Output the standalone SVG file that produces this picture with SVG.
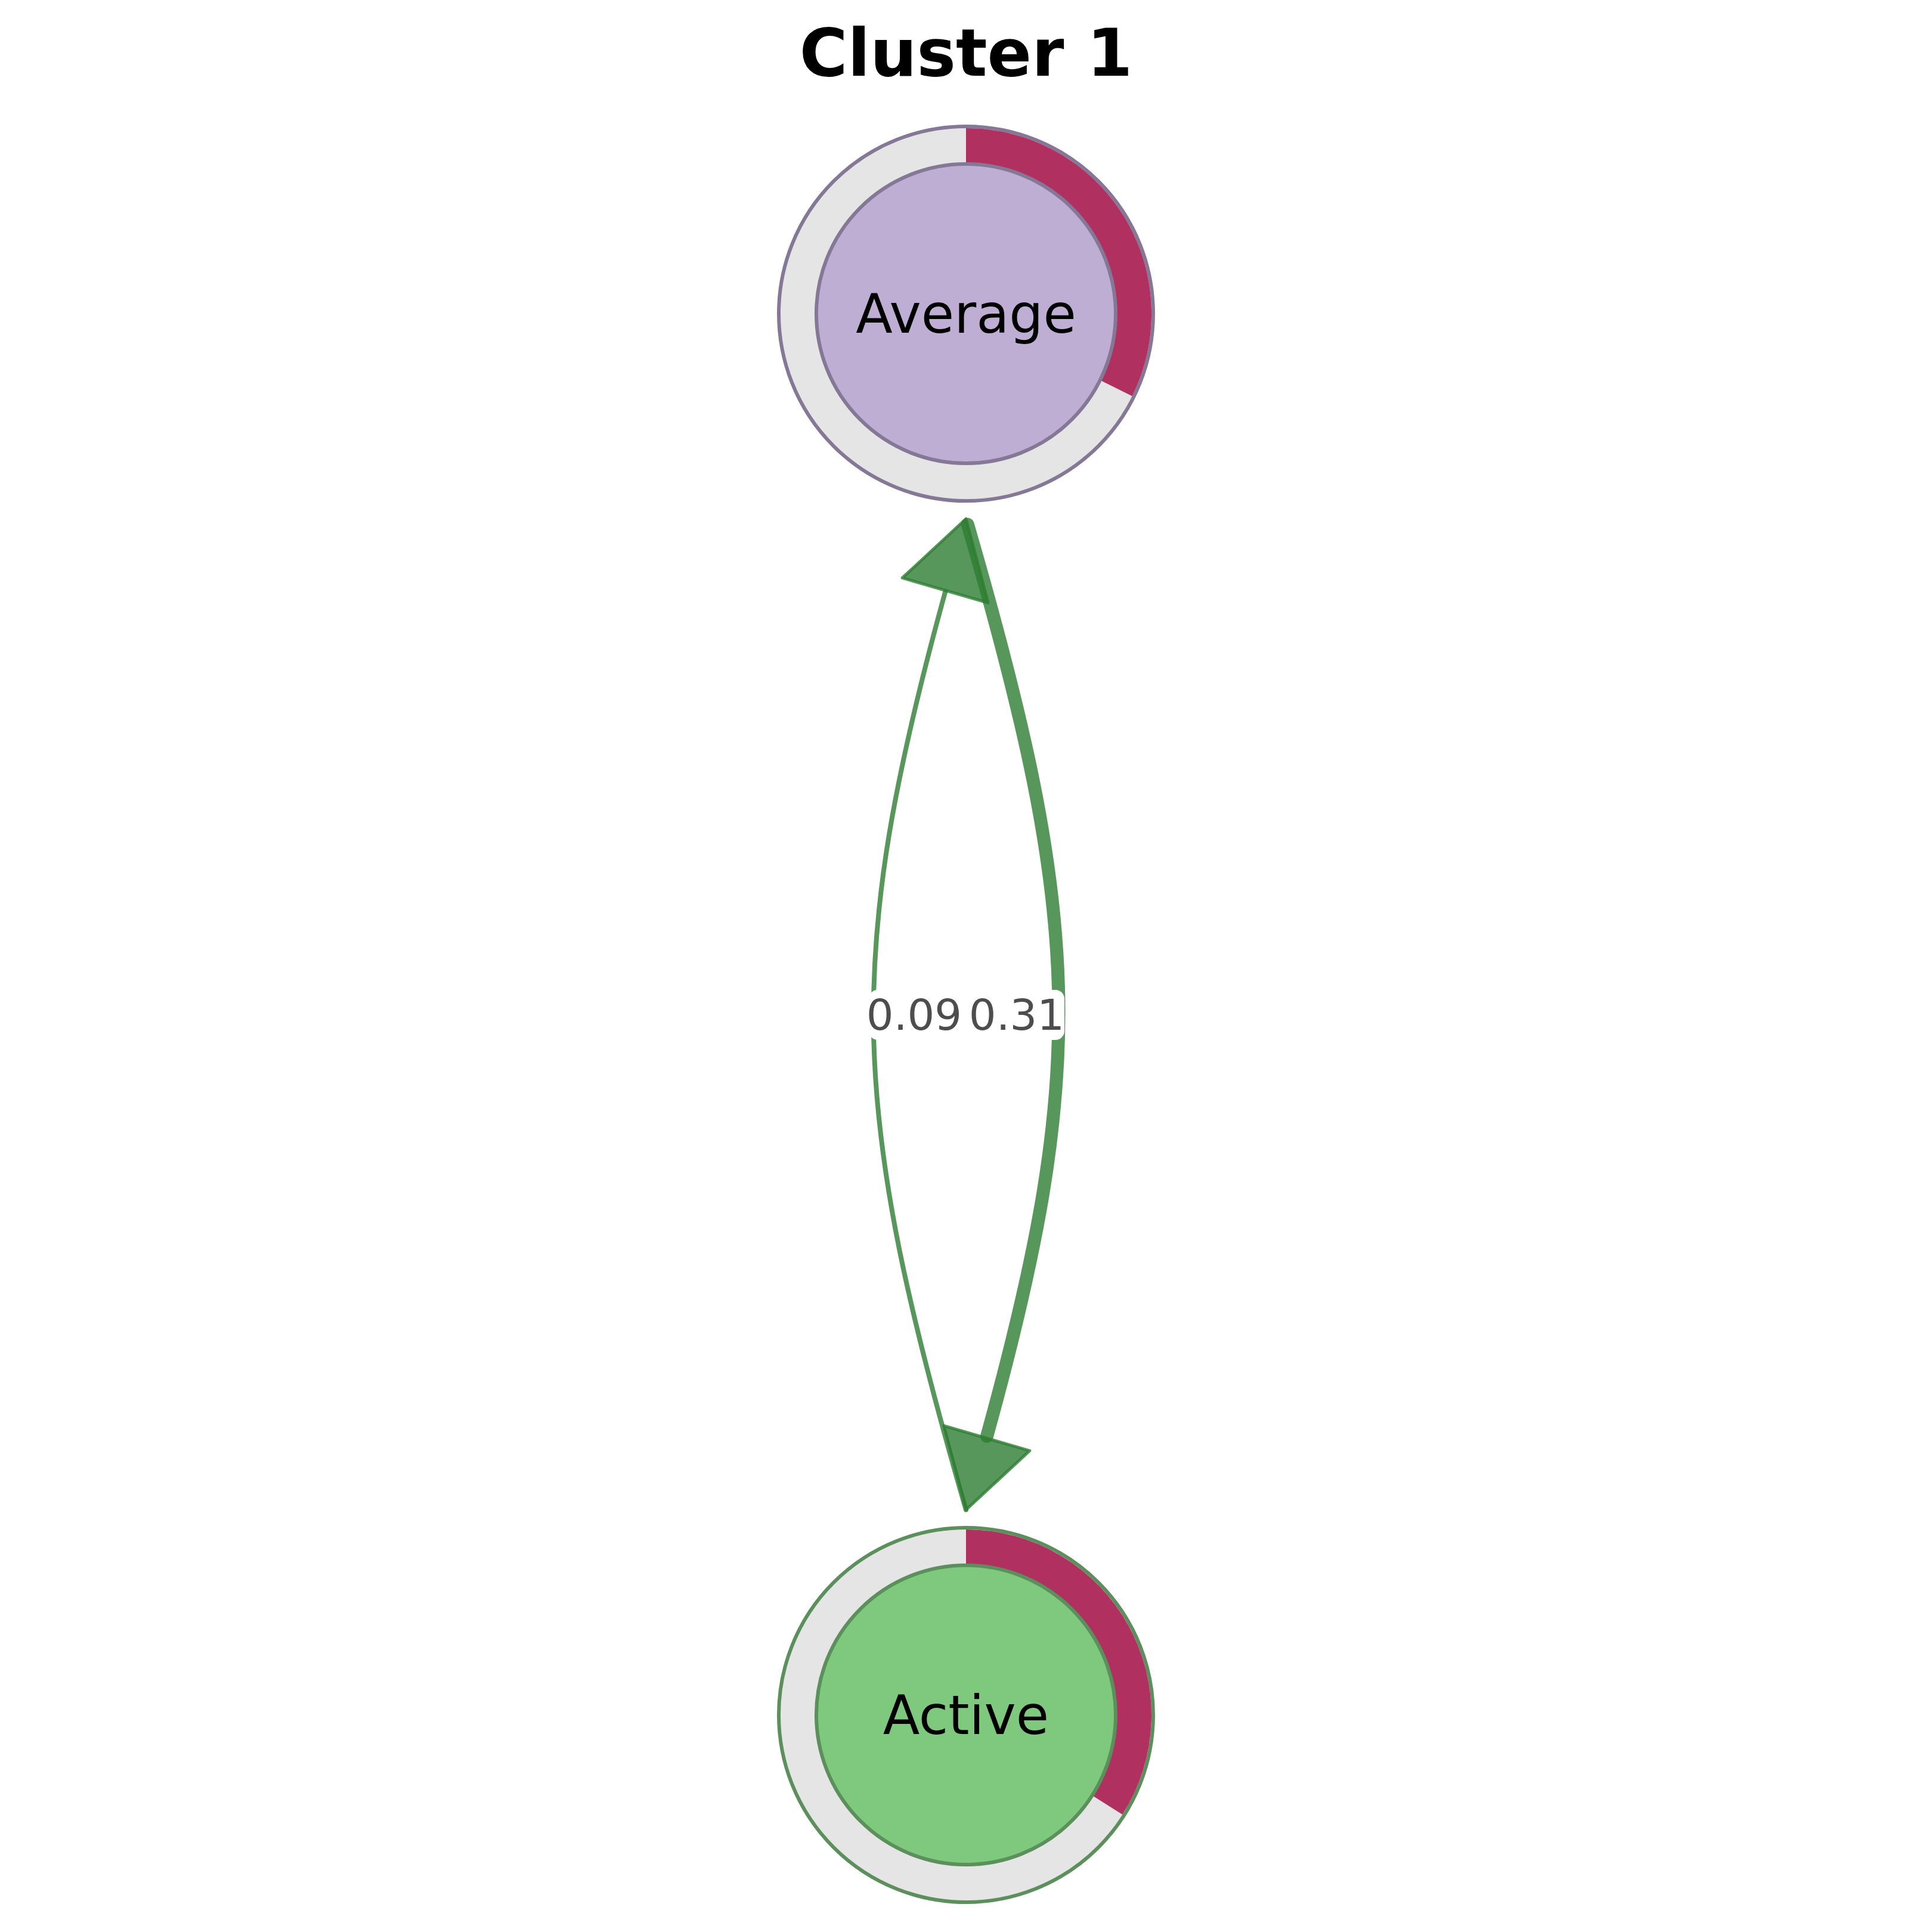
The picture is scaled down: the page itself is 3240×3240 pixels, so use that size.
<svg xmlns="http://www.w3.org/2000/svg" width="3240" height="3240" viewBox="0 0 3240 3240">
<style>
.title{font-family:"DejaVu Sans","Liberation Sans",sans-serif;font-weight:bold;font-size:110px;fill:#000;text-anchor:middle}
.nlabel{font-family:"DejaVu Sans","Liberation Sans",sans-serif;font-size:90px;fill:#000;text-anchor:middle}
.elabel{font-family:"DejaVu Sans","Liberation Sans",sans-serif;font-size:72px;fill:#4d4d4d;text-anchor:middle}
.ring{fill:#e5e5e5;stroke-width:6}
.frac{fill:#b03060}
.inner{stroke-width:6}
.shaft{fill:none;stroke:#2e7d32;stroke-opacity:0.8;stroke-linecap:round;stroke-linejoin:round}
.head{fill:#2e7d32;fill-opacity:0.8;stroke:#2e7d32;stroke-opacity:0.8;stroke-width:5;stroke-linejoin:round}
.lbox{fill:#fff;stroke:#fff;stroke-width:2}
</style>
<rect x="0" y="0" width="3240" height="3240" fill="#fff"/>
<text class="title" x="1620" y="127">Cluster 1</text>
<g id="connectors">
  <g id="edge-active-average">
    <path class="shaft" stroke-width="8" d="M1620,2532 C1425.4,1861.8 1413.8,1613.0 1585,993.4"/>
    <polygon class="head" points="1620,870 1657.1,1011.0 1513.1,969.2"/>
  </g>
  <g id="edge-average-active">
    <path class="shaft" stroke-width="22" d="M1622.8,879.6 C1814.6,1540.2 1826.3,1789.0 1655,2408.6"/>
    <polygon class="head" points="1620,2532 1582.9,2391.0 1726.9,2432.8"/>
  </g>
  <g id="edge-labels">
    <rect class="lbox" x="1458" y="1661" width="156" height="82" rx="14"/>
    <text class="elabel" x="1533" y="1727">0.09</text>
    <rect class="lbox" x="1626" y="1661" width="158" height="82" rx="14"/>
    <text class="elabel" x="1705" y="1727">0.31</text>
  </g>
</g>
<g id="node-average">
  <circle class="ring" cx="1620" cy="526" r="314" stroke="#857896"/>
  <path class="frac" d="M1620,215 A311,311 0 0 1 1898.6,664.3 L1844.8,637.6 A251,251 0 0 0 1620,275 Z"/>
  <circle class="inner" cx="1620" cy="526" r="251" fill="#beaed4" stroke="#857896"/>
  <text class="nlabel" x="1620" y="558">Average</text>
</g>
<g id="node-active">
  <circle class="ring" cx="1620" cy="2876" r="314" stroke="#5b8f5b"/>
  <path class="frac" d="M1620,2565 A311,311 0 0 1 1882.3,3043.1 L1831.7,3010.9 A251,251 0 0 0 1620,2625 Z"/>
  <circle class="inner" cx="1620" cy="2876" r="251" fill="#7fc97f" stroke="#5b8f5b"/>
  <text class="nlabel" x="1620" y="2908">Active</text>
</g>
</svg>
